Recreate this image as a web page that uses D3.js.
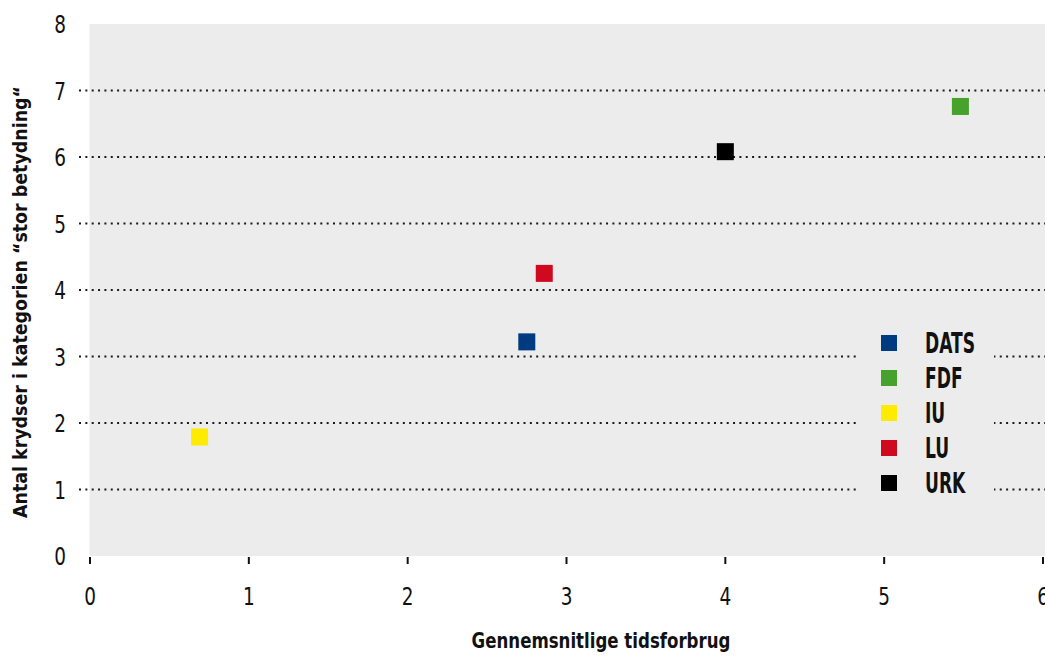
<!DOCTYPE html>
<html><head><meta charset="utf-8">
<script src="https://cdn.jsdelivr.net/npm/d3@7"></script>
<style>
html,body{margin:0;padding:0;background:#fff;}
text{font-family:"DejaVu Sans Condensed","Liberation Sans Narrow","Roboto",sans-serif;}
</style></head>
<body>
<svg id="c" width="1045" height="656"></svg>
<script>
const categories = ["DATS","FDF","IU","LU","URK"];
const xValues = [2.75, 5.48, 0.69, 2.86, 4.0];
const yValues = [3.22, 6.76, 1.79, 4.25, 6.08];
const colors = ["#003a80","#46a12d","#ffeb00","#cf0a20","#000000"];
const xTicks = [0,1,2,3,4,5,6];
const yTicks = [0,1,2,3,4,5,6,7,8];
const xTitle = "Gennemsnitlige tidsforbrug";
const yTitle = "Antal krydser i kategorien “stor betydning“";

(function(){
const svg = d3.select("#c");
const pL = 89.5, pT = 24, pB = 556;
const x = d3.scaleLinear().domain([0,6]).range([90,1043]);
const y = d3.scaleLinear().domain([0,8]).range([556,24]);

svg.append("rect").attr("x",pL).attr("y",pT).attr("width",1045-pL).attr("height",pB-pT).attr("fill","#ececec");

// gridlines
const grid = svg.append("g");
yTicks.filter(d=>d>0 && d<8).forEach(d=>{
  grid.append("line").attr("x1",79).attr("x2",1045).attr("y1",y(d)).attr("y2",y(d))
    .attr("stroke","#1a1a1a").attr("stroke-width",2).attr("stroke-dasharray","2 4.35");
});

// y tick labels
svg.append("g").selectAll("text").data(yTicks).join("text")
  .attr("transform",d=>`translate(66,${y(d)}) scale(0.82,1)`).attr("dy","0.36em").attr("text-anchor","end")
  .attr("font-size",25).attr("fill","#111").text(d=>d);

// x ticks
svg.append("g").selectAll("line").data(xTicks).join("line")
  .attr("x1",d=>x(d)).attr("x2",d=>x(d)).attr("y1",557).attr("y2",564)
  .attr("stroke","#111").attr("stroke-width",2);
svg.append("g").selectAll("text").data(xTicks).join("text")
  .attr("transform",d=>`translate(${x(d)},605) scale(0.82,1)`).attr("text-anchor","middle")
  .attr("font-size",25).attr("fill","#111").text(d=>d);

// legend box
const lg = svg.append("g");
lg.append("rect").attr("x",858).attr("y",324).attr("width",136).attr("height",176).attr("fill","#ececec");
categories.forEach((c,i)=>{
  const cy = 343 + i*35;
  lg.append("rect").attr("x",881).attr("y",cy-8).attr("width",16).attr("height",16).attr("fill",colors[i]);
  lg.append("text").attr("transform",`translate(925,${cy}) scale(0.68,1)`).attr("dy","0.36em").attr("font-size",28)
    .attr("font-weight","bold").attr("fill","#111").text(c);
});

// points
svg.append("g").selectAll("rect").data(categories).join("rect")
  .attr("x",(d,i)=>x(xValues[i])-8.5).attr("y",(d,i)=>y(yValues[i])-8.5)
  .attr("width",17).attr("height",17).attr("fill",(d,i)=>colors[i]);

// titles
svg.append("text").attr("transform","translate(601,648) scale(0.84,1)").attr("text-anchor","middle")
  .attr("font-size",22).attr("font-weight","bold").attr("fill","#111").text(xTitle);
svg.append("text").attr("transform","translate(27,302) rotate(-90) scale(0.97,1)").attr("text-anchor","middle")
  .attr("font-size",20).attr("font-weight","bold").attr("fill","#111").text(yTitle);
})();
</script>
</body></html>
